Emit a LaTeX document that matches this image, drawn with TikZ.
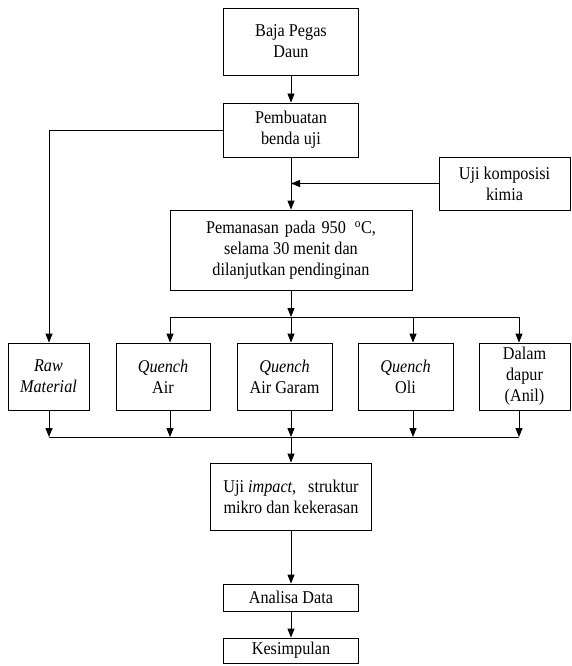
\documentclass[tikz,border=0pt]{standalone}
\usepackage{fontspec}
\setmainfont{Liberation Serif}[FakeStretch=0.9]
\usepackage{xcolor}
\usepackage{tikz}
\usetikzlibrary{calc,arrows.meta}

\tikzset{
  box/.style={draw, line width=0.8pt, align=center, inner sep=2pt,
    font=\fontsize{18}{21}\selectfont},
  flow/.style={line width=0.8pt, -{Triangle[length=9pt,width=7pt]}},
  bus/.style={line width=0.8pt}
}

\begin{document}
\begin{tikzpicture}[x=1pt, y=-1pt]
\useasboundingbox (0,0) rectangle (571,666);

% top column
\node[box, minimum width=135pt, minimum height=67pt] (baja) at (291,41.5)
  {Baja Pegas\\Daun};
\node[box, minimum width=135pt, minimum height=54pt] (buat) at (291,130)
  {Pembuatan\\benda uji};
\node[box, minimum width=131pt, minimum height=53pt] (komp) at (504.5,183.5)
  {Uji komposisi\\kimia};
\node[box, minimum width=242pt, minimum height=80pt] (panas) at (291,250)
  {Pemanasan\hspace{6pt}pada\hspace{6pt}950\hspace{9pt}\textsuperscript{o}C,\\selama 30 menit dan\\dilanjutkan pendinginan};

% treatment row
\foreach \nm/\cx/\bw/\txt in {raw/48.5/81/{\textit{Raw}\\\textit{Material}},
    qair/163/94/{\textit{Quench}\\Air},
    qgaram/284.5/95/{\textit{Quench}\\Air Garam},
    qoli/405.5/95/{\textit{Quench}\\Oli},
    anil/524.5/91/{Dalam\\dapur\\(Anil)}}{
  \node[box, minimum width=\bw pt, minimum height=67pt] (\nm) at (\cx,376.5) {\txt};
}

% bottom column
\node[box, minimum width=161pt, minimum height=67pt] (uji) at (291,496.5)
  {Uji \textit{impact},\hspace{12pt}struktur\\mikro dan kekerasan};
\node[box, minimum width=135pt, minimum height=27pt] (analisa) at (291,597.5)
  {Analisa Data};
\node[box, minimum width=135pt, minimum height=25pt] (simpul) at (291,650.5)
  {Kesimpulan};

% bus points
\coordinate (split) at (291,317);
\coordinate (merge) at (291,437);
\coordinate (tRaw) at (49,437);
\coordinate (tAir) at (170,317);
\coordinate (tOli) at (413,317);
\coordinate (tAnil) at (519,317);

\draw[flow] (baja) -- (buat);
\draw[flow] (buat.south) -- (panas.north);
\draw[flow] (buat.west) -| (tRaw |- raw.north);
\draw[flow] (komp.west) -- (komp.west -| buat.south);

% split to treatments
\draw[flow] (panas.south) -- (split);
\draw[bus] (tAir) -- (tAnil);
\foreach \t/\b in {tAir/qair, split/qgaram, tOli/qoli, tAnil/anil}{
  \draw[flow] (\t) -- (\t |- \b.north);
}

% merge to testing
\draw[bus] (tRaw) -- (tAnil |- merge);
\foreach \t/\b in {tRaw/raw, tAir/qair, split/qgaram, tOli/qoli, tAnil/anil}{
  \draw[flow] (\t |- \b.south) -- (\t |- merge);
}
\draw[flow] (merge) -- (uji.north);
\draw[flow] (uji) -- (analisa);
\draw[flow] (analisa) -- (simpul);

\end{tikzpicture}
\end{document}
